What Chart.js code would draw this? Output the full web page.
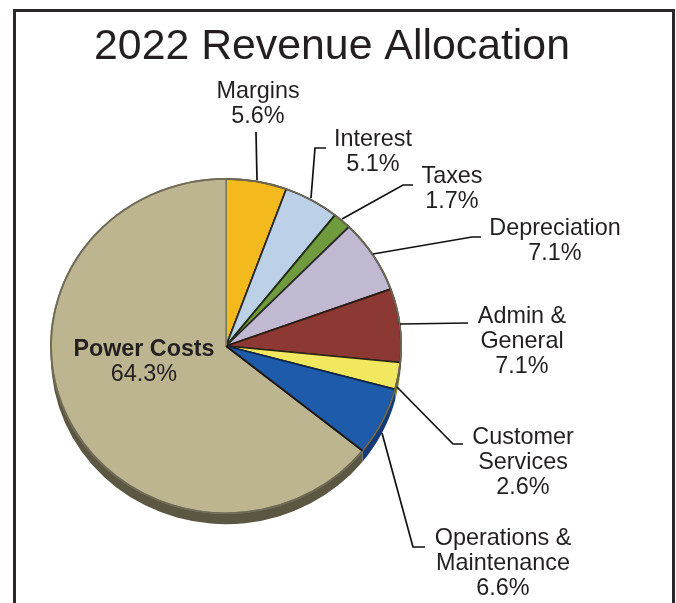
<!DOCTYPE html>
<html>
<head>
<meta charset="utf-8">
<style>
  html, body { margin: 0; padding: 0; background: #fff; overflow: hidden; }
  #wrap { position: relative; width: 676px; height: 603px; }
  #frame { position: absolute; left: 13px; top: 9px; width: 656px; height: 620px; border: 3px solid #2b2829; }
  canvas { position: absolute; left: 0; top: 0; }
</style>
<script src="https://cdn.jsdelivr.net/npm/chart.js@4"></script>
</head>
<body>
<div id="wrap">
  <div id="frame"></div>
  <canvas id="myChart" width="676" height="603"></canvas>
</div>
<script>
const titulo = "2022 Revenue Allocation";
const categories = ["Margins", "Interest", "Taxes", "Depreciation", "Admin & General", "Customer Services", "Operations & Maintenance", "Power Costs"];
const valores = [5.6, 5.1, 1.7, 7.1, 7.1, 2.6, 6.6, 64.3];
const colores = ["#f4b91c", "#bcd1e8", "#6f9a3e", "#c1b8d2", "#8c3833", "#f2e860", "#1f5bab", "#bcb590"];
const lados = ["#8a6a10", "#6f7f8f", "#3f5a20", "#6f6a7f", "#4f1f1c", "#8a8530", "#143a78", "#5b5742"];

// label text lines + where they sit on the page
const etiquetas = [
  { lineas: ["Margins", "5.6%"], x: 258, y: 92 },
  { lineas: ["Interest", "5.1%"], x: 373, y: 140 },
  { lineas: ["Taxes", "1.7%"], x: 452, y: 177 },
  { lineas: ["Depreciation", "7.1%"], x: 555, y: 229 },
  { lineas: ["Admin &", "General", "7.1%"], x: 522, y: 317 },
  { lineas: ["Customer", "Services", "2.6%"], x: 523, y: 438 },
  { lineas: ["Operations &", "Maintenance", "6.6%"], x: 503, y: 539 },
  { lineas: ["Power Costs", "64.3%"], x: 144, y: 350, negrita: true }
];
// leader lines, slice edge first then elbows
const guias = [
  [[256, 132], [257, 180]],
  [[311, 198], [315, 148], [326, 148]],
  [[342, 219], [403, 185], [413, 185]],
  [[373, 254], [472, 237], [481, 237]],
  [[400, 324], [468, 323]],
  [[397, 387], [453, 444], [463, 444]],
  [[382, 433], [413, 547], [425, 547]]
];

const escalaY = 0.955;
const fondo = 11.5;

const pie3d = {
  id: "pie3d",
  beforeDatasetsDraw(chart) {
    const ctx = chart.ctx;
    const arcos = chart.getDatasetMeta(0).data;
    const cy = arcos[0].y;
    ctx.save();
    // the pie is tilted: squash it a little and draw the side wall first
    ctx.translate(0, cy);
    ctx.scale(1, escalaY);
    ctx.translate(0, -cy);
    arcos.forEach((a, i) => {
      ctx.beginPath();
      ctx.arc(a.x, a.y + fondo, a.outerRadius, a.startAngle, a.endAngle);
      ctx.arc(a.x, a.y, a.outerRadius, a.endAngle, a.startAngle, true);
      ctx.closePath();
      ctx.fillStyle = lados[i];
      ctx.fill();
    });
  },
  afterDatasetsDraw(chart) {
    const ctx = chart.ctx;
    const arcos = chart.getDatasetMeta(0).data;
    // rim is lighter than the slice edges
    ctx.strokeStyle = "#6f6a58";
    ctx.lineWidth = 1.8;
    arcos.forEach(a => {
      ctx.beginPath();
      ctx.arc(a.x, a.y, a.outerRadius, a.startAngle, a.endAngle);
      ctx.stroke();
    });
    // blue / power edge is the dark one, power / margins the pale one
    const p = arcos[arcos.length - 1];
    ctx.strokeStyle = "#16161a";
    ctx.lineWidth = 2;
    ctx.beginPath();
    ctx.moveTo(p.x, p.y);
    ctx.lineTo(p.x + p.outerRadius * Math.cos(p.startAngle), p.y + p.outerRadius * Math.sin(p.startAngle));
    ctx.stroke();
    ctx.restore();
    drawLabels(chart);
  }
};

function drawLabels(chart) {
  const ctx = chart.ctx;
  ctx.save();
  ctx.strokeStyle = "#111";
  ctx.lineWidth = 1.7;
  guias.forEach(g => {
    ctx.beginPath();
    g.forEach((p, i) => i ? ctx.lineTo(p[0], p[1]) : ctx.moveTo(p[0], p[1]));
    ctx.stroke();
  });
  ctx.textAlign = "center";
  ctx.textBaseline = "middle";
  ctx.fillStyle = "#231f20";
  ctx.font = "42.8px 'Liberation Sans'";
  ctx.fillText(titulo, 332, 47);
  etiquetas.forEach(e => {
    e.lineas.forEach((t, i) => {
      ctx.font = (e.negrita && i == 0 ? "bold 23.3px" : "23.4px") + " 'Liberation Sans'";
      ctx.fillText(t, e.x, e.y + i * 24.7);
    });
  });
  ctx.restore();
}

const ctx = document.getElementById("myChart");
new Chart(ctx, {
  type: "pie",
  data: {
    labels: categories,
    datasets: [{
      data: valores,
      backgroundColor: colores,
      borderColor: ["#2a2618", "#2a2a22", "#1f2a14", "#2a2a2a", "#2a1a16", "#2a2614", "#10254a", "#8a8468"],
      borderWidth: 1.8
    }]
  },
  options: {
    responsive: false,
    animation: false,
    layout: { padding: { left: 50, right: 274, top: 170, bottom: 81 } },
    plugins: {
      legend: { display: false },
      tooltip: { enabled: false }
    }
  },
  plugins: [pie3d]
});
</script>
</body>
</html>
